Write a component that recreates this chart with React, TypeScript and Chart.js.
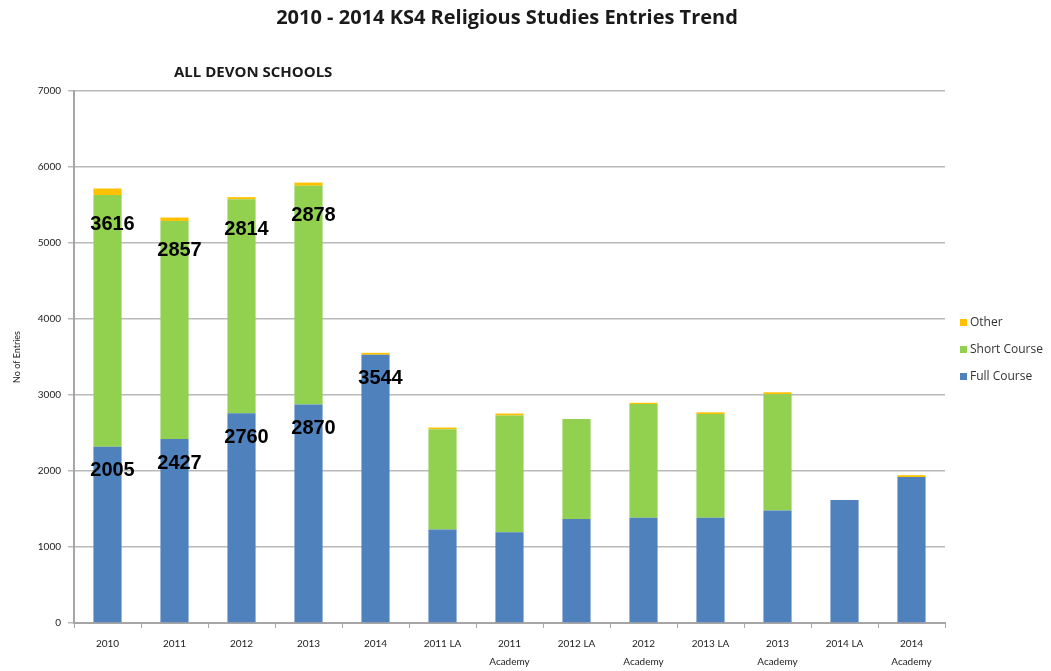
import React, { useEffect, useRef } from "react";
import { Chart, registerables } from "chart.js";

Chart.register(...registerables);

const chartTitle = "2010 - 2014 KS4 Religious Studies Entries Trend";
const chartSubtitle = "ALL DEVON SCHOOLS";
const yAxisTitle = "No of Entries";

const categories: (string | string[])[] = [
  "2010",
  "2011",
  "2012",
  "2013",
  "2014",
  "2011 LA",
  ["2011", "Academy"],
  "2012 LA",
  ["2012", "Academy"],
  "2013 LA",
  ["2013", "Academy"],
  "2014 LA",
  ["2014", "Academy"],
];

const fullCourse = [2320, 2420, 2760, 2875, 3530, 1230, 1195, 1370, 1385, 1385, 1480, 1620, 1920];
const shortCourse = [3312, 2870, 2815, 2878, 0, 1320, 1535, 1315, 1495, 1365, 1530, 0, 0];
const otherEntries = [85, 45, 28, 42, 25, 22, 26, 0, 18, 22, 26, 0, 25];

const fullCourseLabels = ["2005", "2427", "2760", "2870", "3544"];
const shortCourseLabels = ["3616", "2857", "2814", "2878"];

const yTicks = { min: 0, max: 7000, step: 1000 };

const BLUE = "#4f81bd";
const GREEN = "#92d050";
const ORANGE = "#ffc000";

const textPlugin = {
  id: "extraText",
  afterDraw(chart: any) {
    const ctx = chart.ctx;
    const area = chart.chartArea;
    ctx.save();
    // Title
    ctx.fillStyle = "#1a1a1a";
    ctx.font = "bold 20px 'Open Sans'";
    ctx.textAlign = "center";
    ctx.textBaseline = "middle";
    ctx.fillText(chartTitle, 507, 18);
    // Subtitle
    ctx.font = "bold 15px 'Open Sans'";
    ctx.textAlign = "left";
    ctx.fillText(chartSubtitle, area.left + 100, 73);

    // Data labels
    ctx.font = "bold 20px 'Liberation Sans'";
    ctx.textAlign = "center";
    ctx.fillStyle = "#000";
    const sets: [number, string[], number][] = [
      [0, fullCourseLabels, 24],
      [1, shortCourseLabels, 30],
    ];
    sets.forEach(([di, labels, dy]) => {
      const meta = chart.getDatasetMeta(di);
      labels.forEach((txt, i) => {
        const el = meta.data[i];
        if (!el || !txt) return;
        ctx.fillText(txt, el.x + 5, el.y + dy);
      });
    });

    // Legend (reverse order)
    const ds = chart.data.datasets;
    ctx.font = "12px 'Open Sans'";
    ctx.textAlign = "left";
    ctx.textBaseline = "middle";
    const legendX = area.right + 15;
    const legendY0 = 323;
    const legendGap = 27;
    for (let k = ds.length - 1, row = 0; k >= 0; k--, row++) {
      const y = legendY0 + row * legendGap;
      ctx.fillStyle = ds[k].backgroundColor;
      ctx.fillRect(legendX, y - 4, 7, 7);
      ctx.fillStyle = "#333";
      ctx.fillText(ds[k].label, legendX + 10, y);
    }
    ctx.restore();
  },
};

export default function App() {
  const canvasRef = useRef<HTMLCanvasElement | null>(null);

  useEffect(() => {
    if (!canvasRef.current) return;
    const chart = new Chart(canvasRef.current, {
      type: "bar",
      data: {
        labels: categories,
        datasets: [
          { label: "Full Course", data: fullCourse, backgroundColor: BLUE, borderWidth: 0 },
          { label: "Short Course", data: shortCourse, backgroundColor: GREEN, borderWidth: 0 },
          { label: "Other", data: otherEntries, backgroundColor: ORANGE, borderWidth: 0 },
        ],
      },
      options: {
        animation: false,
        responsive: true,
        maintainAspectRatio: false,
        layout: { padding: { top: 91, right: 106, bottom: 0, left: 8 } },
        datasets: {
          bar: { barPercentage: 0.42, categoryPercentage: 1 },
        },
        plugins: {
          legend: { display: false },
          title: { display: false },
          tooltip: { enabled: false },
        },
        scales: {
          x: {
            stacked: true,
            grid: {
              display: true,
              drawOnChartArea: false,
              drawTicks: true,
              tickLength: 5,
              color: "#a6a6a6",
              lineWidth: 1,
            },
            border: { display: true, color: "#a6a6a6", width: 2 },
            ticks: {
              color: "#222",
              font: { family: "Lato", size: 10, lineHeight: 1.8 },
              padding: 7,
              maxRotation: 0,
              autoSkip: false,
            },
            afterFit(scale: any) {
              scale.height = 48;
            },
          },
          y: {
            stacked: true,
            min: yTicks.min,
            max: yTicks.max,
            ticks: {
              stepSize: yTicks.step,
              color: "#222",
              font: { family: "Lato", size: 10 },
              padding: 7,
              callback: (v: any) => String(v),
            },
            grid: {
              color: "#b9b9b9",
              lineWidth: 1.5,
              tickLength: 6,
            },
            border: { display: true, color: "#a6a6a6", width: 2 },
            title: {
              display: true,
              text: yAxisTitle,
              color: "#222",
              font: { family: "Lato", size: 9 },
              padding: { top: 4, bottom: 0 },
            },
            afterFit(scale: any) {
              scale.width = 66;
            },
          },
        },
      },
      plugins: [textPlugin],
    });
    return () => chart.destroy();
  }, []);

  return (
    <div style={{ position: "fixed", left: 0, top: 0, width: 1051, height: 671, background: "#fff" }}>
      <canvas ref={canvasRef} />
    </div>
  );
}
